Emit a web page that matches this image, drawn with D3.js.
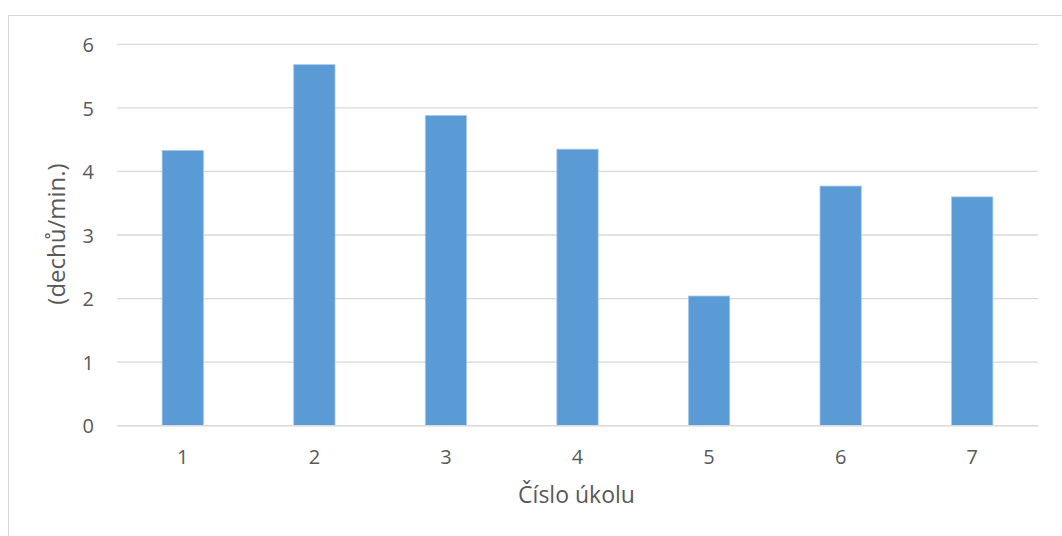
<!DOCTYPE html>
<html>
<head>
<meta charset="utf-8">
<script src="https://cdn.jsdelivr.net/npm/d3@7"></script>
<style>
  html, body { margin: 0; padding: 0; background: #fff; }
  svg { display: block; }
</style>
</head>
<body>
<svg id="chart" width="1062" height="536"></svg>
<script>
// Breathing rate change per task
const categories = ["1", "2", "3", "4", "5", "6", "7"];
const values = [4.33, 5.68, 4.88, 4.35, 2.04, 3.77, 3.60];
const yTicks = [0, 1, 2, 3, 4, 5, 6];
const xTitle = "Číslo úkolu";
const yTitle = "(dechů/min.)";

const W = 1062, H = 536;
const plot = { left: 117, right: 1038, top: 44.3, bottom: 425.7 };
const font = "'Open Sans', 'Noto Sans', sans-serif";
const textColor = "#595959";

const svg = d3.select("#chart");

// chart-area frame
svg.append("rect")
  .attr("x", 8.5).attr("y", 15.5)
  .attr("width", W).attr("height", H)
  .attr("fill", "#fff").attr("stroke", "#d9d9d9").attr("stroke-width", 1);

const x = d3.scaleBand()
  .domain(categories)
  .range([plot.left, plot.right])
  .paddingInner(0.686)
  .paddingOuter(0.343);

const y = d3.scaleLinear()
  .domain([0, 6])
  .range([plot.bottom, plot.top]);

// horizontal gridlines
svg.append("g")
  .selectAll("line")
  .data(yTicks.filter(d => d !== 0))
  .join("line")
  .attr("x1", plot.left).attr("x2", plot.right)
  .attr("y1", d => y(d)).attr("y2", d => y(d))
  .attr("stroke", "#d9d9d9").attr("stroke-width", 1.3);

// bars
svg.append("g")
  .selectAll("rect")
  .data(values)
  .join("rect")
  .attr("x", (d, i) => x(categories[i]))
  .attr("y", d => y(d))
  .attr("width", x.bandwidth())
  .attr("height", d => y(0) - y(d))
  .attr("fill", "#5b9bd5")
  .attr("stroke", "#a9c8ea")
  .attr("stroke-width", 0.8);

// category axis baseline
svg.append("line")
  .attr("x1", plot.left).attr("x2", plot.right)
  .attr("y1", y(0)).attr("y2", y(0))
  .attr("stroke", "#d9d9d9").attr("stroke-width", 1.5);

// y axis labels
const yAxis = d3.axisLeft(y).tickValues(yTicks).tickSize(0).tickPadding(0).tickFormat(d3.format("d"));
const gy = svg.append("g").attr("transform", `translate(${94},0)`).call(yAxis);
gy.select(".domain").remove();
gy.selectAll("text")
  .attr("fill", textColor)
  .style("font-family", font)
  .style("font-size", "20px")
  .attr("dy", "0.36em");

// x axis labels
const xAxis = d3.axisBottom(x).tickSize(0).tickPadding(0);
const gx = svg.append("g").attr("transform", `translate(0,${457})`).call(xAxis);
gx.select(".domain").remove();
gx.selectAll("text")
  .attr("fill", textColor)
  .attr("dy", "0.36em")
  .style("font-family", font)
  .style("font-size", "20px");

// axis titles
svg.append("text")
  .attr("x", 576.5)
  .attr("y", 503)
  .attr("text-anchor", "middle")
  .attr("fill", textColor)
  .style("font-family", font)
  .style("font-size", "23px")
  .text(xTitle);

svg.append("text")
  .attr("transform", `translate(65,234) rotate(-90)`)
  .attr("text-anchor", "middle")
  .attr("fill", textColor)
  .style("font-family", font)
  .style("font-size", "24px")
  .text(yTitle);
</script>
</body>
</html>
